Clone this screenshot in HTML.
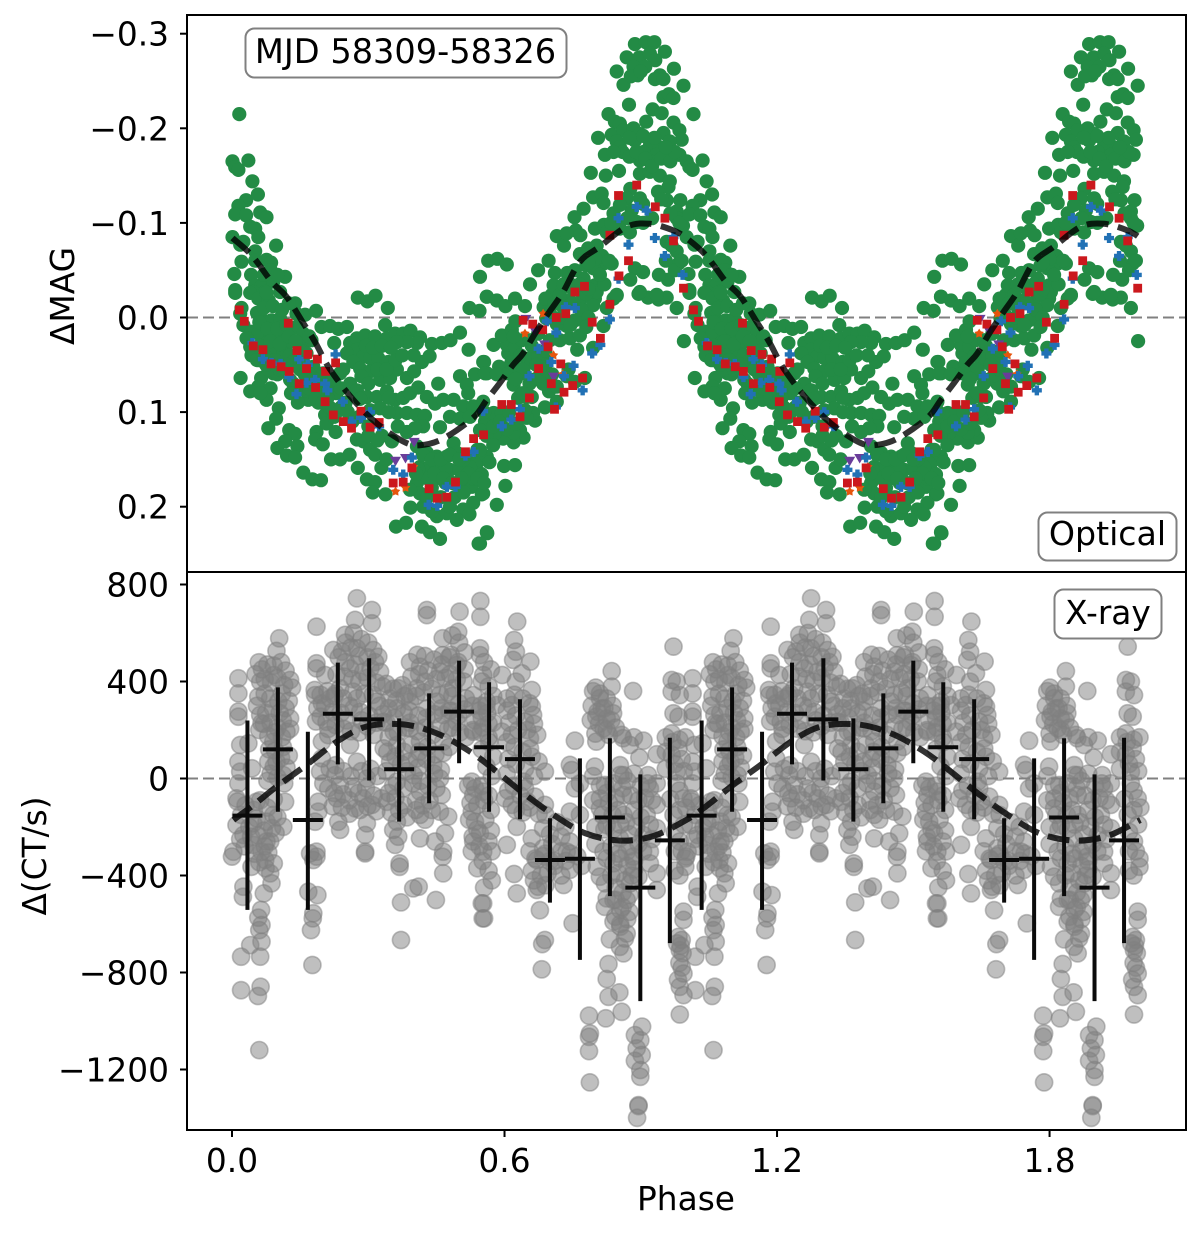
<!DOCTYPE html>
<html lang="en">
<head>
<meta charset="utf-8">
<title>Phase-folded optical and X-ray light curves</title>
<style>
html,body{margin:0;padding:0;background:#fff;width:1200px;height:1233px;overflow:hidden}
svg{display:block}
text{font-family:"DejaVu Sans","Liberation Sans",sans-serif;font-size:32.8px;fill:#000}
</style>
</head>
<body>
<svg id="chart" xmlns="http://www.w3.org/2000/svg" width="1200" height="1233" viewBox="0 0 1200 1233">
  <rect x="0" y="0" width="1200" height="1233" fill="#fff"/>
  <g id="top-marks"></g>
  <g id="bottom-marks"></g>
  <rect x="187" y="15" width="999" height="557" fill="none" stroke="#000" stroke-width="2"/>
  <rect x="187" y="572" width="999" height="558" fill="none" stroke="#000" stroke-width="2"/>
  <g id="axes"></g>
  <text x="686" y="1210" text-anchor="middle">Phase</text>
  <text transform="translate(74,296) rotate(-90)" text-anchor="middle">ΔMAG</text>
  <text transform="translate(46,856) rotate(-90)" text-anchor="middle">Δ(CT/s)</text>
  <g>
    <rect x="245.5" y="28.5" width="321" height="49" rx="9" fill="#fff" stroke="#808080" stroke-width="2"/>
    <text x="405.5" y="63" text-anchor="middle" style="font-size:33.6px">MJD 58309-58326</text>
  </g>
  <g>
    <rect x="1038.5" y="512.5" width="138" height="48" rx="9" fill="#fff" stroke="#808080" stroke-width="2"/>
    <text x="1107.5" y="545" text-anchor="middle" style="font-size:33.2px">Optical</text>
  </g>
  <g>
    <rect x="1054.5" y="589.5" width="107" height="49" rx="9" fill="#fff" stroke="#808080" stroke-width="2"/>
    <text x="1108" y="624" text-anchor="middle">X-ray</text>
  </g>
</svg>
<script>
// Values: phase in thousandths of a cycle, magnitude in millimag, rate in CT/s.
const xTickValues = [0, 0.6, 1.2, 1.8];
const xTickLabels = ["0.0", "0.6", "1.2", "1.8"];
const magTickValues = [-0.3, -0.2, -0.1, 0, 0.1, 0.2];
const magTickLabels = ["\u22120.3", "\u22120.2", "\u22120.1", "0.0", "0.1", "0.2"];
const rateTickValues = [800, 400, 0, -400, -800, -1200];
const rateTickLabels = ["800", "400", "0", "\u2212400", "\u2212800", "\u22121200"];

const greenPoints = [[16,-215],[1,-165],[7,-159],[14,-156],[36,-166],[45,-144],[57,-130],[31,-124],[14,-118],[7,-109],[31,-108],[62,-111],[76,-106],[40,-96],[51,-94],[58,-85],[1,-85],[18,-77],[25,-80],[97,-76],[51,-70],[21,-59],[51,-60],[76,-61],[86,-58],[5,-46],[42,-45],[117,-43],[7,-29],[51,-34],[65,-33],[91,-38],[47,-27],[73,-27],[106,-27],
[7,-26],[40,-26],[58,-20],[81,-18],[76,-26],[21,-10],[18,-4],[25,8],[43,15],[58,17],[32,22],[40,31],[43,40],[139,-15],[161,-3],[185,-7],[142,-4],[142,10],[157,17],[73,4],[87,3],[106,1],[117,17],[84,17],[98,24],[76,27],[120,29],[91,34],[73,41],[113,38],[127,40],[95,45],[135,47],[91,59],[19,64],[64,64],[58,73],[40,78],[85,75],[76,87],[62,80],[128,66],[135,70],[168,87],[161,77],[157,27],[175,24],[164,38],[179,52],[201,59],[216,73],[230,80],[238,59],[208,77],[197,70],[103,96],[97,107],[80,117],[126,119],[139,123],[117,131],[100,138],[144,136],[121,146],[139,148],[157,164],[177,171],[196,172],[186,121],[183,129],[200,134],[205,103],[208,112],[228,121],[218,150],[238,150],[259,145],[277,159],[277,-21],[298,-17],[316,-23],[343,-10],[197,10],[216,9],[234,12],[253,10],[225,27],
[260,27],[275,22],[293,19],[315,20],[337,8],[341,22],[359,17],[377,17],[393,14],[414,21],[407,27],[385,26],[363,26],[440,28],[462,27],[481,24],[502,16],[521,34],[418,47],[435,41],[275,34],[289,41],[304,43],[322,43],[344,47],[253,38],[267,47],[282,54],[304,57],[326,66],[348,64],[363,55],[385,64],[401,57],[454,70],[502,62],[535,60],[553,47],[561,59],[517,71],[520,80],[561,-22],[523,-10],[545,-7],
[245,55],[260,70],[275,77],[297,84],[319,84],[341,78],[359,87],[377,85],[392,80],[410,74],[429,84],[447,91],[465,87],[488,87],[509,94],[531,94],[553,89],[282,86],[304,98],[326,96],[363,101],[385,101],[407,103],[425,104],[421,115],[403,117],[385,121],[458,116],[480,105],[502,107],[524,105],[557,110],[275,129],[289,131],[304,140],[315,145],[329,159],[297,171],[315,174],[310,185],[338,187],[352,131],[407,136],[429,143],[451,147],[473,147],[488,133],[495,143],[517,150],[539,154],[547,165],[561,147],[414,158],[436,158],[458,158],[480,161],[502,161],[524,158],[407,175],[414,186],[436,168],[392,182],[528,179],[550,187],[531,196],[509,203],[523,208],[393,201],[421,200],[451,210],[473,207],[495,214],[480,200],[361,221],[383,217],[418,221],[436,227],[458,234],[543,239],[561,227],
[450,170],[470,175],[500,175],[530,170],[440,180],[460,190],[490,190],[510,185],[430,170],[410,160],[470,160],[510,150],[540,140],[330,125],[300,115],[280,105],[250,90],[230,100],[210,85],[190,90],[170,60],[150,45],[120,50],[100,60],[80,55],[60,45],[110,10],[130,25],[150,35],[170,20],
[553,186],[583,198],[562,228],[546,239],[602,178],[599,157],[623,156],[567,153],[550,166],[546,140],[642,127],[620,132],[597,128],[579,122],[561,112],[546,119],[576,101],[594,101],[667,109],[663,101],[649,106],[634,119],[620,122],[630,85],[649,84],[689,95],[715,89],[660,84],[698,78],[620,71],[642,59],[663,66],[685,70],[678,61],[715,73],[737,62],[755,68],[777,64],[741,55],[693,47],[555,47],[588,52],[557,59],[583,60],[608,59],[627,54],[642,54],[656,43],[674,41],[608,38],[605,29],[623,31],[576,29],[594,19],[616,13],[624,4],[638,24],[656,24],[674,17],[700,24],[722,24],[744,22],[766,19],[760,34],[795,32],[818,9],[737,9],[755,3],[715,7],[692,1],[766,1],
[561,-22],[583,-18],[602,-12],[623,-20],[645,-12],[686,-11],[704,-24],[722,-22],[744,-18],[773,-22],[799,-20],[825,-10],[847,-23],[840,-20],[795,-13],[766,-12],[895,-25],[916,-21],[939,-19],[957,-21],[979,-10],[995,25],
[887,-289],[911,-291],[930,-291],[953,-281],[869,-275],[897,-275],[920,-279],[932,-272],[847,-260],[884,-265],[910,-265],[893,-256],[973,-263],[862,-246],[942,-256],[931,-252],[950,-252],[994,-245],[950,-233],[962,-236],[972,-232],[874,-225],[926,-220],[946,-216],[829,-215],[912,-207],[972,-206],[843,-207],[854,-205],[806,-190],[836,-193],[862,-198],[884,-200],[898,-194],[950,-195],[985,-198],[990,-188],[847,-186],[821,-172],[854,-180],[887,-187],[920,-182],[964,-186],[942,-180],[906,-175],[935,-172],[957,-168],[985,-172],[898,-166],[920,-165],[790,-153],[823,-150],[852,-155],[898,-152],[920,-154],[942,-150],[964,-144],[961,-138],[938,-133],[877,-136],[795,-127],[814,-131],[818,-121],[774,-115],[754,-106],[869,-126],[898,-126],[880,-113],[840,-110],[854,-119],[957,-124],[987,-124],[979,-112],
[715,-86],[731,-76],[757,-92],[767,-87],[737,-89],[799,-94],[819,-98],[766,-67],[784,-73],[803,-76],[825,-90],[854,-94],[876,-90],[891,-101],[979,-105],[993,-97],[957,-80],[979,-70],[983,-57],[968,-76],[887,-52],[905,-48],[877,-40],[818,-57],[836,-57],[796,-52],[697,-60],[674,-50],[656,-35],[564,-60],[584,-62],[605,-56],[546,-43],[711,-47],[738,-47],[708,-34],[774,-41],[799,-34],[722,-24],[803,-27],[847,-24],[898,-27],[935,-24],[960,-40],[975,-50],[990,-60],[955,-60],[940,-45],[745,-35],[755,-50],[780,-25],[820,-35],[780,-55],
[55,-5],[70,-10],[90,-12],[110,-8],[125,-15],[60,5],[78,12],[100,12],[120,8],[60,30],[85,25],[105,28],[125,20],[140,25],[55,45],[75,50],[105,55],[120,55],[150,55],[130,80],[145,90],[160,60],[180,65],[170,75],[185,85],[200,90],[215,95],[225,105],[240,95],[255,100],[265,110],[240,75],[225,65],[285,62],[300,70],[320,55],[340,55],[360,45],[295,30],[310,32],[330,30],[350,32],[375,40],[400,40],[345,100],[365,115],[345,85],[300,125],[320,130],[340,150],[420,145],[440,150],[460,150],[480,145],[500,150],[520,165],[540,170],[555,175],[430,190],[445,165],[465,170],[485,175],[505,170],[405,165],[440,205],[560,125],[575,115],[590,110],[605,118],[625,112],[645,98],[575,135],[555,100],[610,100],[615,48],[635,40],[655,70],[640,80],[625,65],[670,50],[690,55],[705,60],[660,30],[690,35],[620,20],[690,-20],[710,-15],[730,-10],[750,-15],[770,-8],[785,0],[700,-5],[725,0],[745,8],[780,10],[730,-35],[750,-30],[765,-35],[785,-30],[810,-45],[815,-65],[800,-62],[785,-58],[830,-60],[905,-120],[925,-105],[945,-125],[965,-110],[985,-100],[905,-100],[870,-105],[850,-95],[835,-100],[860,-175],[875,-170],[890,-175],[910,-168],[925,-160],[945,-168],[965,-165],[975,-175],[955,-180],[875,-190],[930,-190],[905,-192],[840,-175],[878,-255],[900,-260],[70,-45],[85,-50],[100,-45]];

const redPoints = [[16,-8],[27,4],[124,6],[47,30],[68,34],[143,35],[167,39],[188,44],[228,48],[86,49],[108,52],[126,57],[164,54],[206,57],[148,70],[184,74],[205,89],[223,103],[245,110],[263,117],[284,99],[304,116],[324,111],[355,175],[377,174],[396,159],[434,181],[452,191],[473,190],[492,174],[514,142],[532,128],[554,124],[594,92],[615,92],[634,105],[655,85],[710,97],[731,79],[750,72],[772,64],[703,70],[675,54],[724,49],[696,31],[684,13],[641,3],[662,7],[714,0],[735,-4],[793,5],[811,22],[832,-14],[755,-27],[891,-140],[851,-129],[932,-117],[953,-105],[832,-87],[972,-81],[873,-60],[852,-44],[776,-33],[994,-31]];

const bluePoints = [[45,27],[68,44],[148,44],[107,49],[87,48],[167,50],[228,39],[126,63],[164,69],[183,66],[205,70],[210,77],[142,81],[244,89],[263,110],[284,106],[304,100],[324,115],[355,161],[377,166],[396,148],[473,179],[492,179],[433,198],[452,199],[514,146],[532,142],[553,99],[594,115],[615,108],[634,97],[713,95],[772,77],[731,62],[655,62],[752,51],[703,47],[675,33],[793,38],[811,29],[714,16],[693,4],[832,2],[755,-10],[735,-11],[891,-117],[913,-113],[851,-105],[873,-77],[931,-84],[953,-65],[992,-45],[851,-41],[972,-85]];

const purplePoints = [[401,132],[382,149],[360,152],[647,2],[666,14],[688,29],[708,63]];

const orangePoints = [[400,158],[360,184],[382,180],[645,17],[685,-4],[708,40],[728,60]];

const magModelPhase = [1,43,87,120,157,183,216,267,319,377,414,465,531,561,590,619,641,667,696,729,766,810,869,920,972,1000];
const magModelValue = [-84,-66,-38,-22,6,26,55,87,112,131,135,128,106,87,69,50,38,17,-4,-27,-59,-75,-96,-99,-92,-84];

const greyPoints = [[14,413],[14,351],[14,276],[14,255],[59,479],[62,399],[58,337],[104,578],[98,526],[92,427],[128,406],[62,262],[128,248],[102,317],[65,228],[18,138],[36,145],[14,69],[18,28],[44,42],[10,-82],[91,152],[120,193],[98,69],[113,14],[14,-20],[54,-96],[117,-96],[113,-199],[91,-150],[76,-178],[10,-192],[47,-185],[25,-233],[76,-260],[3,-302],[47,-274],[65,-302],[84,-260],
[186,626],[186,475],[186,454],[205,427],[183,344],[198,310],[208,234],[212,179],[198,152],[198,83],[194,28],[201,-20],[190,-96],[190,-137],[183,-178],[172,-309],[186,-302],
[275,743],[308,695],[308,640],[271,654],[249,592],[223,530],[242,523],[275,537],[311,530],[322,502],[260,454],[289,440],[238,372],[216,330],[267,358],[326,440],[366,372],[348,330],[319,317],[363,289],[282,275],[334,234],[356,193],[260,138],[275,69],[227,14],[238,-27],[267,-41],[231,-82],[289,-82],[329,-82],[297,0],[308,-109],[271,-123],[234,-178],[238,-212],[297,-185],[293,-233],[293,-302],[363,-178],[355,-212],[366,-240],[359,-274],[341,-96],[377,-41],[363,-13],[348,69],[334,124],[363,138],
[429,695],[429,674],[501,688],[547,732],[547,667],[498,605],[464,578],[464,509],[414,461],[425,399],[458,440],[495,468],[546,537],[546,509],[553,427],[407,372],[451,317],[487,372],[392,317],[429,289],[465,262],[531,344],[561,317],[495,234],[531,193],[392,207],[414,152],[465,152],[407,83],[443,55],[458,0],[400,14],[414,-54],[462,-68],[528,-13],[531,-68],[553,-54],[528,-137],[414,-150],[414,-247],[458,-137],[476,-157],[469,-226],[447,-260],[465,-302],[535,-178],[531,-260],[546,-226],[553,-302],
[0,-322],[43,-364],[73,-336],[84,-391],[87,-432],[25,-446],[24,-488],[70,-474],[64,-542],[58,-574],[65,-604],[60,-625],[65,-673],[40,-687],[20,-735],[62,-735],[63,-859],[20,-873],[57,-897],[60,-1120],
[179,-336],[186,-322],[168,-467],[188,-481],[179,-556],[178,-577],[174,-625],[177,-769],[293,-309],[369,-350],[369,-364],[399,-453],[411,-446],[449,-501],[372,-511],[372,-666],[464,-323],[465,-391],[550,-515],[552,-577],
[628,647],[621,571],[625,523],[619,489],[657,482],[595,427],[638,434],[625,399],[660,365],[616,303],[660,296],[663,262],[583,303],[594,193],[656,166],[656,124],[616,179],[689,28],[642,-13],[601,-82],[616,-109],[645,-41],[667,-75],[689,-109],[627,-199],[605,-274],[660,-247],
[755,156],[744,56],[748,35],[799,49],[766,-20],[755,-41],[744,-137],[734,-199],[766,-150],[744,-260],[737,-302],[685,-205],[685,-288],
[836,443],[836,379],[801,375],[810,331],[883,361],[814,289],[802,255],[825,248],[839,269],[818,207],[802,152],[861,166],[876,138],[906,156],[897,86],[935,100],[854,55],[821,-27],[862,14],[810,-82],[916,14],[935,-20],[920,-41],[810,-123],[862,-68],[862,-150],[825,-192],[913,-150],[935,-109],[935,-205],[854,-247],[906,-233],[818,-302],[869,-302],[920,-302],
[972,544],[968,406],[979,399],[968,358],[986,344],[972,269],[983,255],[968,186],[983,124],[968,97],[979,-20],[994,-82],[979,28],[972,-150],[986,-260],
[621,-394],[627,-474],[553,-515],[555,-577],[671,-460],[678,-543],[674,-446],[730,-439],[750,-597],[689,-666],[683,-683],[682,-787],[671,-336],[744,-377],[803,-364],[810,-405],[825,-494],[821,-529],[844,-570],[855,-611],[832,-663],[854,-694],[862,-721],[869,-639],[829,-765],[825,-827],[829,-900],[853,-882],[823,-989],[858,-962],[786,-978],[788,-1051],[786,-1065],[786,-1124],[788,-1253],[903,-1023],[887,-1058],[899,-1079],[891,-1113],[902,-1140],[887,-1164],[899,-1202],[899,-1230],[895,-1347],[895,-1351],[892,-1399],
[986,-708],[990,-666],[983,-653],[994,-804],[986,-859],[994,-893],[986,-973],[994,-549],[994,-583],[998,-364],[935,-460],[935,-391],[920,-350],[883,-322],[876,-433],[869,-501],[855,-542],[840,-501],[821,-432],
[12,-95],[30,-110],[48,-130],[62,-90],[78,-120],[92,-85],[20,-150],[38,-200],[55,-165],[70,-215],[88,-205],[100,-160],[28,-280],[42,-240],[58,-235],[72,-280],[96,-225],[18,-250],[50,-310],[80,-305],[60,-345],[74,-370],[92,-350],
[52,430],[66,450],[78,470],[92,465],[108,480],[118,445],[72,410],[86,395],[100,415],[115,385],[132,375],[55,300],[72,350],[84,330],[110,350],[125,320],[60,200],[75,270],[90,290],[105,270],[118,290],[70,225],[85,230],[100,210],[112,240],[128,205],[80,175],[95,190],[110,170],
[82,120],[95,115],[112,130],[125,95],[80,70],[92,50],[108,85],[120,45],[85,20],[100,5],[115,-20],[78,-10],
[182,365],[195,345],[210,360],[225,340],[188,290],[205,300],[222,275],[195,255],[212,205],[228,220],[185,235],
[250,560],[268,600],[285,575],[300,560],[262,540],[280,505],[298,500],[315,480],[235,500],[250,480],[272,470],[305,455],[230,430],[248,420],[265,410],[280,400],[298,415],[318,395],[332,380],[228,350],[245,330],[258,300],[275,330],[292,350],[310,345],[325,300],[240,270],[252,240],[268,290],[285,240],[302,260],[318,230],[332,265],[246,205],[262,195],[280,190],[298,215],[312,180],
[215,40],[228,55],[245,30],[262,10],[285,30],[305,40],[320,10],[212,-40],[225,-60],[245,-65],[258,-90],[278,-60],[295,-40],[312,-70],[222,-115],[242,-120],[258,-145],[282,-130],[298,-115],[318,-135],
[340,390],[355,370],[375,385],[345,290],[362,320],[380,340],[340,230],[358,250],[378,270],[345,170],[365,190],[382,210],[342,110],[360,90],[378,110],[340,30],[355,-30],[372,60],[385,30],[345,-60],[360,-80],[378,-110],[350,-140],[368,-130],[385,-160],
[392,480],[408,510],[425,505],[445,490],[462,470],[478,500],[395,420],[412,430],[432,445],[450,410],[470,415],[388,350],[405,340],[422,355],[440,370],[458,345],[475,355],[390,280],[410,260],[428,250],[445,265],[462,290],[478,280],[392,230],[408,195],[425,210],[442,180],[458,215],[476,205],[395,140],[412,110],[430,130],[448,100],[465,105],[478,130],[390,70],[410,45],[428,80],[445,20],[460,35],[398,-20],[415,-10],[432,-30],[450,-40],[405,-90],[420,-110],[435,-90],[405,-130],[425,-170],[440,-130],
[485,590],[500,560],[512,520],[482,510],[498,480],[512,450],[480,430],[495,410],[510,400],[485,340],[500,310],[515,330],[482,280],[498,260],[512,285],[485,210],[502,190],[515,170],[530,300],[545,280],[560,300],[535,240],[550,250],[565,225],[530,200],[548,190],[565,170],
[520,-30],[535,-40],[550,-30],[565,-70],[525,-100],[540,-110],[555,-90],[570,-130],[522,-170],[540,-210],[558,-170],[570,-215],[530,-240],[545,-280],[565,-260],[572,-300],[528,-300],[552,-340],[565,-380],[540,-370],[572,-420],[555,-450],
[555,480],[570,450],[550,400],[565,380],[575,340],[548,300],[562,270],[575,230],[552,210],[566,150],[575,90],[550,120],[560,50],[572,10],
[605,330],[622,345],[640,330],[655,310],[605,280],[625,260],[645,235],[665,225],[610,230],[630,200],[650,200],[672,180],[605,150],[622,130],[640,110],[660,90],[675,70],[608,80],[625,60],[645,40],[665,10],[605,20],[620,-30],[635,-70],[650,-95],[608,-50],[625,-130],[640,-140],[655,-120],[675,-145],
[690,-150],[700,-230],[715,-180],[705,-270],[725,-240],[690,-310],[710,-340],[725,-300],
[655,-300],[668,-330],[685,-320],[700,-340],[660,-380],[680,-400],[695,-390],[665,-420],[690,-440],[710,-360],[725,-400],[735,-340],[745,-310],[760,-320],[770,-360],
[795,360],[810,350],[825,330],[838,300],[792,300],[805,275],[820,290],[835,240],[790,240],[808,225],[825,200],[845,210],[800,185],[830,180],[858,180],[885,170],
[795,10],[810,-30],[825,-60],[840,-20],[855,15],[870,-10],[885,20],[900,-30],[915,-20],[795,-90],[815,-150],[830,-100],[845,-80],[860,-40],[878,-70],[895,-90],[910,-80],[925,-90],[800,-200],[820,-210],[838,-150],[850,-130],[868,-180],[885,-130],[900,-160],[920,-190],[800,-270],[840,-210],[855,-190],[875,-230],[890,-200],[835,-280],[850,-310],[875,-280],[895,-270],[905,-300],[925,-250],
[825,-330],[840,-350],[855,-330],[870,-360],[885,-340],[835,-400],[850,-390],[865,-420],[880,-400],[845,-450],[860,-470],[875,-480],[845,-500],[860,-530],[875,-550],[840,-590],[855,-600],[870,-580],[865,-660],[885,-375],[895,-405],
[955,170],[970,150],[985,160],[998,170],[955,110],[975,60],[990,80],[955,40],[995,30],[985,-50],[1000,-120],[965,-85],[985,-130],[995,-190],[975,-220],[990,-300],[998,-330],[975,-300],[985,-400],[975,-380],
[980,-680],[988,-690],[992,-720],[985,-760],[990,-780],[982,-830]];

const binPhase = [34,101,167,233,302,368,434,500,566,634,700,766,832,899,964];
const binRate = [-153,120,-171,267,244,38,124,276,129,80,-336,-331,-161,-450,-255];
const binUpper = [239,376,193,478,496,248,351,486,397,327,-164,83,166,17,168];
const binLower = [-542,-137,-542,58,-8,-178,-102,63,-137,-168,-512,-748,-485,-918,-679];
const binHalfWidth = 33;

const rateModelPhase = [3,43,98,164,231,296,377,451,524,583,642,708,778,855,928,1000];
const rateModelValue = [-171,-116,-34,56,152,214,223,186,111,28,-61,-150,-226,-256,-237,-171];

const periods = [0, 1];

function xScale(phase) { return 232 + 454.2 * phase; }
function yMag(mag) { return 317.5 + 946 * mag; }
function yRate(rate) { return 778.5 - 0.2425 * rate; }

const NS = "http://www.w3.org/2000/svg";
const topLayer = document.getElementById("top-marks");
const bottomLayer = document.getElementById("bottom-marks");
const axesLayer = document.getElementById("axes");

function make(tag, parent, attrs) {
  const el = document.createElementNS(NS, tag);
  for (const k in attrs) el.setAttribute(k, attrs[k]);
  parent.appendChild(el);
  return el;
}

function smoothPath(xs, ys) {
  let d = "M" + xs[0].toFixed(1) + " " + ys[0].toFixed(1);
  for (let i = 0; i < xs.length - 1; i++) {
    const a = Math.max(i - 1, 0), b = i, c = i + 1, e = Math.min(i + 2, xs.length - 1);
    d += "C" + (xs[b] + (xs[c] - xs[a]) / 6).toFixed(1) + " " + (ys[b] + (ys[c] - ys[a]) / 6).toFixed(1) + " " +
         (xs[c] - (xs[e] - xs[b]) / 6).toFixed(1) + " " + (ys[c] - (ys[e] - ys[b]) / 6).toFixed(1) + " " +
         xs[c].toFixed(1) + " " + ys[c].toFixed(1);
  }
  return d;
}

function modelPath(phases, values, yFn) {
  const xs = [], ys = [];
  periods.forEach(function (k) {
    phases.forEach(function (p, i) {
      if (k > 0 && i === 0) return;
      xs.push(xScale(p / 1000 + k));
      ys.push(yFn(values[i]));
    });
  });
  return smoothPath(xs, ys);
}

/* optical panel */
const magZero = make("line", topLayer, {x1: 187, x2: 1186, y1: yMag(0), y2: yMag(0), stroke: "#808080", "stroke-width": 2, "stroke-dasharray": "11 5"});



periods.forEach(function (k) {
  greenPoints.forEach(function (pt) {
    const el = make("circle", topLayer, {cx: xScale(pt[0] / 1000 + k).toFixed(1), cy: yMag(pt[1] / 1000).toFixed(1), r: 7.1, fill: "#238b45"});
    
    
  });
});
periods.forEach(function (k) {
  purplePoints.forEach(function (pt) {
    const x = xScale(pt[0] / 1000 + k), y = yMag(pt[1] / 1000);
    const el = make("polygon", topLayer, {points: (x - 5.5) + "," + (y - 4.5) + " " + (x + 5.5) + "," + (y - 4.5) + " " + x + "," + (y + 5), fill: "#6a3d9a"});
    
    
  });
});
periods.forEach(function (k) {
  orangePoints.forEach(function (pt) {
    const x = xScale(pt[0] / 1000 + k), y = yMag(pt[1] / 1000);
    let s = "";
    for (let i = 0; i < 10; i++) {
      const r = i % 2 ? 2.8 : 5, t = -Math.PI / 2 + i * Math.PI / 5;
      s += (x + r * Math.cos(t)).toFixed(1) + "," + (y + r * Math.sin(t)).toFixed(1) + " ";
    }
    const el = make("polygon", topLayer, {points: s, fill: "#e6550d"});
    
    
  });
});
periods.forEach(function (k) {
  bluePoints.forEach(function (pt) {
    const x = xScale(pt[0] / 1000 + k), y = yMag(pt[1] / 1000);
    const el = make("path", topLayer, {d: "M" + (x - 2.2) + " " + (y - 5) + "h4.4v2.8h2.8v4.4h-2.8v2.8h-4.4v-2.8h-2.8v-4.4h2.8z", fill: "#2171b5"});
    
    
  });
});
periods.forEach(function (k) {
  redPoints.forEach(function (pt) {
    const el = make("rect", topLayer, {x: (xScale(pt[0] / 1000 + k) - 4.4).toFixed(1), y: (yMag(pt[1] / 1000) - 4.4).toFixed(1), width: 8.8, height: 8.8, fill: "#cb181d"});
    
    
  });
});
const magModel = make("path", topLayer, {d: modelPath(magModelPhase, magModelValue.map(function (v) { return v / 1000; }), yMag), fill: "none", stroke: "#000", "stroke-opacity": 0.8, "stroke-width": 6, "stroke-dasharray": "22 9.5"});



/* x-ray panel */
const rateZero = make("line", bottomLayer, {x1: 187, x2: 1186, y1: yRate(0), y2: yRate(0), stroke: "#808080", "stroke-width": 2, "stroke-dasharray": "11 5"});



periods.forEach(function (k) {
  greyPoints.forEach(function (pt) {
    const el = make("circle", bottomLayer, {cx: xScale(pt[0] / 1000 + k).toFixed(1), cy: yRate(pt[1]).toFixed(1), r: 8.6, fill: "#808080", "fill-opacity": 0.5, stroke: "#808080", "stroke-opacity": 0.5, "stroke-width": 1.6});
    
    
  });
});
const rateModel = make("path", bottomLayer, {d: modelPath(rateModelPhase, rateModelValue, yRate), fill: "none", stroke: "#000", "stroke-opacity": 0.8, "stroke-width": 6, "stroke-dasharray": "22 9.5"});


periods.forEach(function (k) {
  binPhase.forEach(function (p, i) {
    const x = xScale(p / 1000 + k), y = yRate(binRate[i]);
    const hw = 454.2 * binHalfWidth / 1000;
    const g = make("g", bottomLayer, {});
    
    
    make("line", g, {x1: x, x2: x, y1: yRate(binUpper[i]), y2: yRate(binLower[i]), stroke: "#0a0a0a", "stroke-width": 4});
    make("line", g, {x1: x - hw, x2: x + hw, y1: y, y2: y, stroke: "#0a0a0a", "stroke-width": 4});
  });
});

/* axes */
xTickValues.forEach(function (v, i) {
  const x = xScale(v);
  const t = make("line", axesLayer, {x1: x, x2: x, y1: 1130, y2: 1137, stroke: "#000", "stroke-width": 2});
  
  
  const l = make("text", axesLayer, {x: x, y: 1172, "text-anchor": "middle"});
  l.textContent = xTickLabels[i];
  
  
});
magTickValues.forEach(function (v, i) {
  const y = yMag(v);
  const t = make("line", axesLayer, {x1: 180, x2: 187, y1: y, y2: y, stroke: "#000", "stroke-width": 2});
  
  
  const l = make("text", axesLayer, {x: 169, y: y + 12, "text-anchor": "end"});
  l.textContent = magTickLabels[i];
  
  
});
rateTickValues.forEach(function (v, i) {
  const y = yRate(v);
  const t = make("line", axesLayer, {x1: 180, x2: 187, y1: y, y2: y, stroke: "#000", "stroke-width": 2});
  
  
  const l = make("text", axesLayer, {x: 169, y: y + 12, "text-anchor": "end"});
  l.textContent = rateTickLabels[i];
  
  
});
</script>
</body>
</html>
